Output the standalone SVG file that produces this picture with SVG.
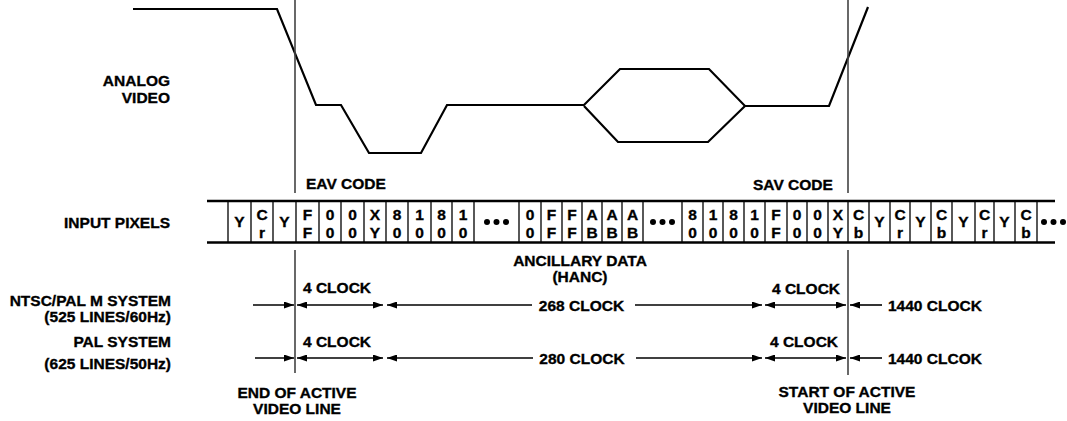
<svg xmlns="http://www.w3.org/2000/svg" width="1067" height="421" viewBox="0 0 1067 421">
<defs>
<style>
text{font-family:"Liberation Sans",Arial,sans-serif;font-weight:bold;fill:#000;stroke:#000;stroke-width:0.35}
.lb{font-size:15.5px}
.r{text-anchor:end}
.m{text-anchor:middle}
.c{font-size:15.5px;text-anchor:middle}
.wave{fill:none;stroke:#000;stroke-width:2.2;stroke-linejoin:miter}
.vl{stroke:#444;stroke-width:1.6;fill:none}
.bus{stroke:#000;stroke-width:2.6;fill:none}
.sep{stroke:#000;stroke-width:1.3;fill:none}
.arr{stroke:#000;stroke-width:1.6;fill:none}
.dot{fill:#000}
</style>
<marker id="ah" viewBox="0 0 10 7" refX="10" refY="3.5" markerWidth="10" markerHeight="7" markerUnits="userSpaceOnUse" orient="auto-start-reverse">
<path d="M0,0 L10,3.5 L0,7 z" fill="#000"/>
</marker>
</defs>
<rect width="1067" height="421" fill="#fff"/>

<g id="analog-video">
<text class="lb r" x="170" y="86">ANALOG</text>
<text class="lb r" x="170" y="103">VIDEO</text>
<path class="wave" d="M133,9 H277 L316,105 H341 L369,153 H421 L447,105 H584 L620,69 H709 L745,106 H829 L868,7"/>
<path class="wave" d="M584,106 L618,142 H708 L745,106"/>
</g>

<g id="markers">
<path class="vl" d="M295,0 V193 M295,250 V373"/>
<path class="vl" d="M848,0 V193 M848,250 V375"/>
<text class="lb" x="306" y="189">EAV CODE</text>
<text class="lb" x="753" y="190">SAV CODE</text>
</g>

<g id="input-pixels">
<text class="lb r" x="170" y="228">INPUT PIXELS</text>
<path class="bus" d="M207,201 H1055 M207,242.5 H1055"/>
<path class="sep" d="M228,201V243 M251,201V243 M273,201V243 M296,201V243 M319,201V243 M341,201V243 M364,201V243 M386,201V243 M408,201V243 M431,201V243 M452,201V243 M474,201V243 M519,201V243 M541,201V243 M562,201V243 M582,201V243 M602,201V243 M622,201V243 M643,201V243 M682,201V243 M703,201V243 M723,201V243 M744,201V243 M765,201V243 M787,201V243 M807,201V243 M828,201V243 M848,201V243 M869,201V243 M890,201V243 M910,201V243 M931,201V243 M952,201V243 M975,201V243 M994,201V243 M1015,201V243 M1037,201V243"/>
<text class="c" x="239.5" y="227">Y</text>
<text class="c" x="262" y="220">C</text><text class="c" x="262" y="238">r</text>
<text class="c" x="284.5" y="227">Y</text>
<text class="c" x="307.5" y="220">F</text><text class="c" x="307.5" y="238">F</text>
<text class="c" x="330" y="220">0</text><text class="c" x="330" y="238">0</text>
<text class="c" x="352.5" y="220">0</text><text class="c" x="352.5" y="238">0</text>
<text class="c" x="375" y="220">X</text><text class="c" x="375" y="238">Y</text>
<text class="c" x="397" y="220">8</text><text class="c" x="397" y="238">0</text>
<text class="c" x="419.5" y="220">1</text><text class="c" x="419.5" y="238">0</text>
<text class="c" x="441.5" y="220">8</text><text class="c" x="441.5" y="238">0</text>
<text class="c" x="463" y="220">1</text><text class="c" x="463" y="238">0</text>
<circle class="dot" cx="487" cy="222" r="3"/><circle class="dot" cx="496.5" cy="222" r="3"/><circle class="dot" cx="506" cy="222" r="3"/>
<text class="c" x="530" y="220">0</text><text class="c" x="530" y="238">0</text>
<text class="c" x="551.5" y="220">F</text><text class="c" x="551.5" y="238">F</text>
<text class="c" x="572" y="220">F</text><text class="c" x="572" y="238">F</text>
<text class="c" x="592" y="220">A</text><text class="c" x="592" y="238">B</text>
<text class="c" x="612" y="220">A</text><text class="c" x="612" y="238">B</text>
<text class="c" x="632.5" y="220">A</text><text class="c" x="632.5" y="238">B</text>
<circle class="dot" cx="653" cy="222" r="3"/><circle class="dot" cx="662.5" cy="222" r="3"/><circle class="dot" cx="672" cy="222" r="3"/>
<text class="c" x="692.5" y="220">8</text><text class="c" x="692.5" y="238">0</text>
<text class="c" x="713" y="220">1</text><text class="c" x="713" y="238">0</text>
<text class="c" x="733.5" y="220">8</text><text class="c" x="733.5" y="238">0</text>
<text class="c" x="754.5" y="220">1</text><text class="c" x="754.5" y="238">0</text>
<text class="c" x="776" y="220">F</text><text class="c" x="776" y="238">F</text>
<text class="c" x="797" y="220">0</text><text class="c" x="797" y="238">0</text>
<text class="c" x="817.5" y="220">0</text><text class="c" x="817.5" y="238">0</text>
<text class="c" x="838" y="220">X</text><text class="c" x="838" y="238">Y</text>
<text class="c" x="858.5" y="220">C</text><text class="c" x="858.5" y="238">b</text>
<text class="c" x="879.5" y="227">Y</text>
<text class="c" x="900" y="220">C</text><text class="c" x="900" y="238">r</text>
<text class="c" x="920.5" y="227">Y</text>
<text class="c" x="941.5" y="220">C</text><text class="c" x="941.5" y="238">b</text>
<text class="c" x="963.5" y="227">Y</text>
<text class="c" x="984.5" y="220">C</text><text class="c" x="984.5" y="238">r</text>
<text class="c" x="1004.5" y="227">Y</text>
<text class="c" x="1026" y="220">C</text><text class="c" x="1026" y="238">b</text>
<circle class="dot" cx="1044" cy="222" r="3"/><circle class="dot" cx="1053.5" cy="222" r="3"/><circle class="dot" cx="1063" cy="222" r="3"/>
</g>

<g id="ancillary-data">
<text class="lb m" x="580" y="266">ANCILLARY DATA</text>
<text class="lb m" x="580" y="282">(HANC)</text>
</g>

<g id="ntsc-row">
<text class="lb r" x="171" y="306">NTSC/PAL M SYSTEM</text>
<text class="lb r" x="171" y="322">(525 LINES/60Hz)</text>
<text class="lb" x="303" y="293">4 CLOCK</text>
<text class="lb m" x="581.5" y="311">268 CLOCK</text>
<text class="lb" x="772" y="294">4 CLOCK</text>
<text class="lb" x="888" y="311">1440 CLOCK</text>
</g>

<g id="pal-row">
<text class="lb r" x="171" y="347">PAL SYSTEM</text>
<text class="lb r" x="171" y="369">(625 LINES/50Hz)</text>
<text class="lb" x="303" y="347">4 CLOCK</text>
<text class="lb m" x="582" y="364">280 CLOCK</text>
<text class="lb" x="770" y="347">4 CLOCK</text>
<text class="lb" x="888" y="364">1440 CLCOK</text>
</g>

<g id="end-of-active">
<text class="lb m" x="297" y="398">END OF ACTIVE</text>
<text class="lb m" x="297" y="414">VIDEO LINE</text>
</g>

<g id="start-of-active">
<text class="lb m" x="847" y="397">START OF ACTIVE</text>
<text class="lb m" x="847" y="413">VIDEO LINE</text>
</g>

<g id="connectors">
<line class="arr" x1="253" y1="305" x2="294" y2="305" marker-end="url(#ah)"/>
<line class="arr" x1="297" y1="305" x2="383" y2="305" marker-start="url(#ah)" marker-end="url(#ah)"/>
<line class="arr" x1="387" y1="305" x2="532" y2="305" marker-start="url(#ah)"/>
<line class="arr" x1="635" y1="305" x2="762" y2="305" marker-end="url(#ah)"/>
<line class="arr" x1="765" y1="305" x2="846" y2="305" marker-start="url(#ah)" marker-end="url(#ah)"/>
<line class="arr" x1="850" y1="305" x2="882" y2="305" marker-start="url(#ah)"/>
<line class="arr" x1="255" y1="358" x2="294" y2="358" marker-end="url(#ah)"/>
<line class="arr" x1="297" y1="358" x2="383" y2="358" marker-start="url(#ah)" marker-end="url(#ah)"/>
<line class="arr" x1="387" y1="358" x2="533" y2="358" marker-start="url(#ah)"/>
<line class="arr" x1="636" y1="358" x2="762" y2="358" marker-end="url(#ah)"/>
<line class="arr" x1="765" y1="358" x2="846" y2="358" marker-start="url(#ah)" marker-end="url(#ah)"/>
<line class="arr" x1="850" y1="358" x2="882" y2="358" marker-start="url(#ah)"/>
</g>
</svg>
